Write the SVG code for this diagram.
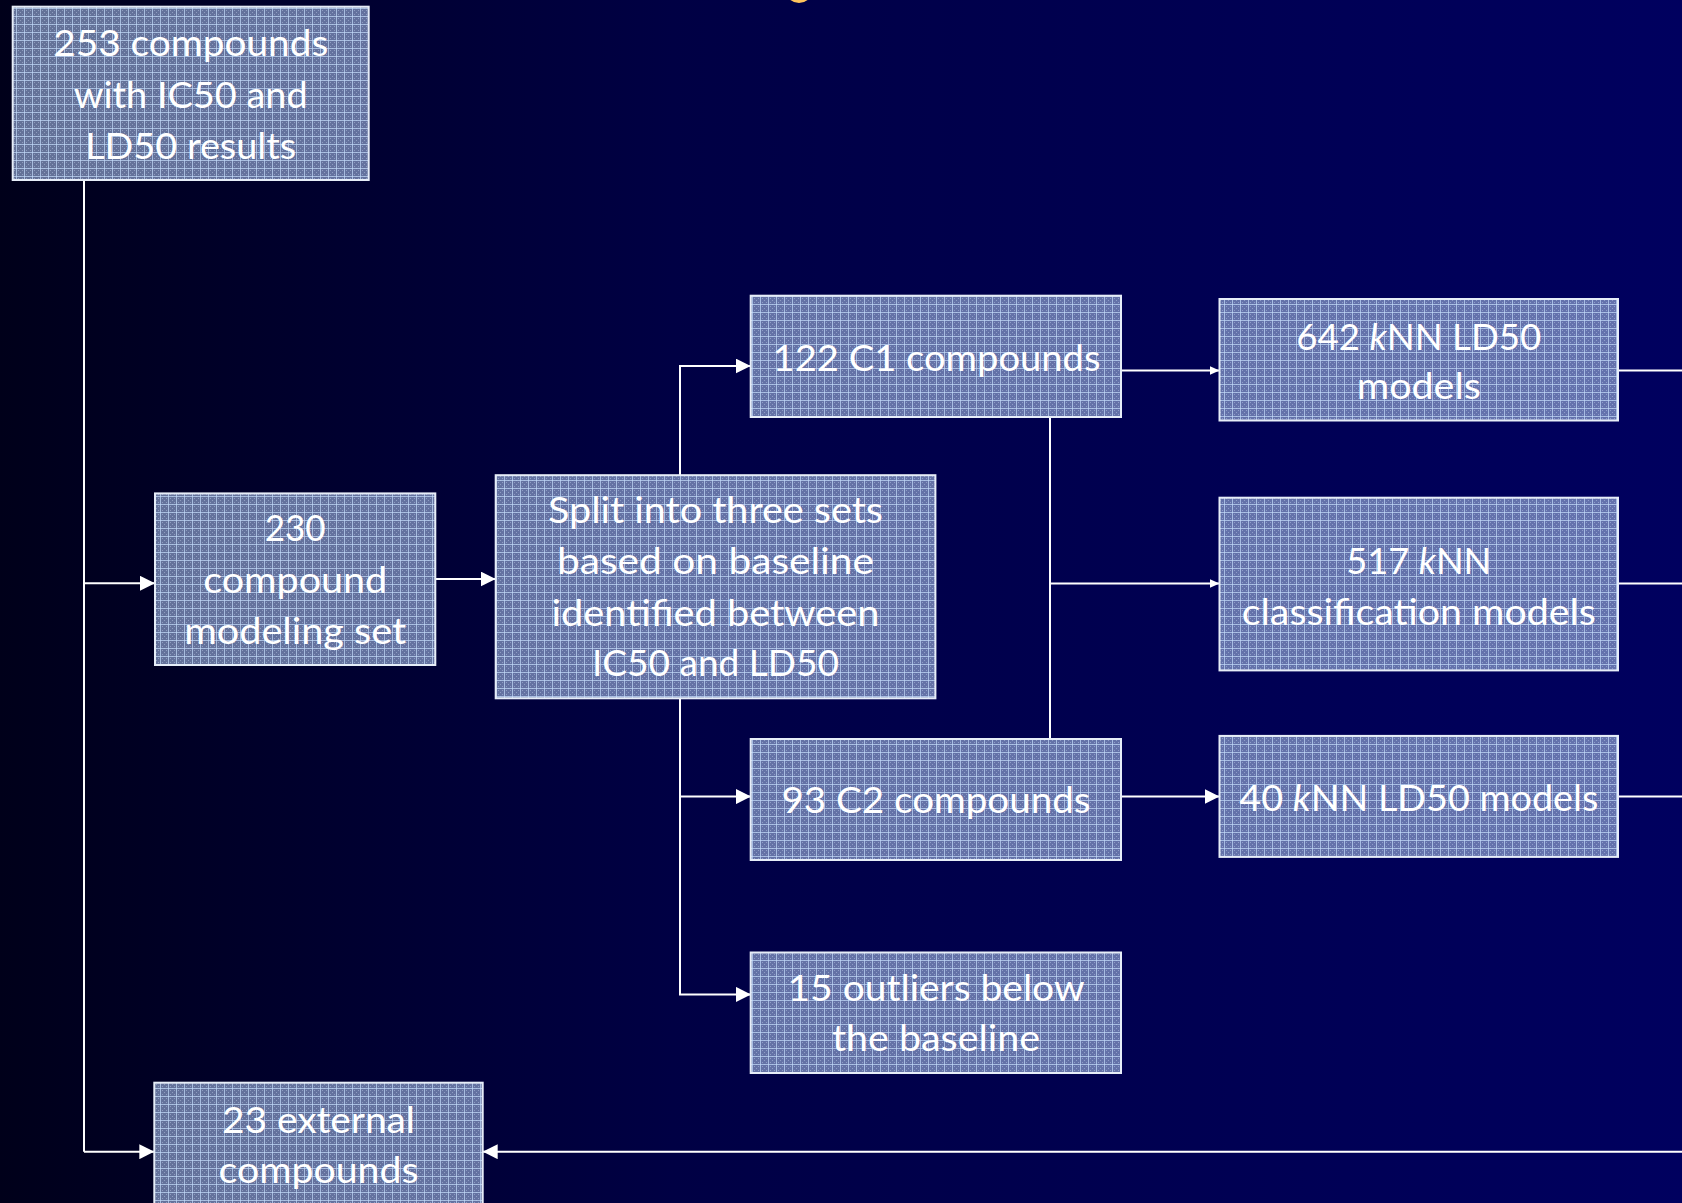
<svg xmlns="http://www.w3.org/2000/svg" width="1682" height="1203" viewBox="0 0 1682 1203">
  <defs>
    <linearGradient id="bg" x1="0" y1="0" x2="1" y2="0">
      <stop offset="0" stop-color="#00001a"/>
      <stop offset="0.4" stop-color="#000044"/>
      <stop offset="1" stop-color="#00005f"/>
    </linearGradient>
    <pattern id="grid" width="8" height="8" patternUnits="userSpaceOnUse">
      <rect width="8" height="8" fill="#93a8d2" fill-opacity="0.68"/>
      <rect x="2" y="2" width="1" height="1" fill="#d0e0f8" fill-opacity="0.4"/>
      <rect x="4" y="4" width="1" height="1" fill="#d0e0f8" fill-opacity="0.4"/>
      <rect x="6" y="2" width="1" height="1" fill="#d0e0f8" fill-opacity="0.4"/>
      <rect x="2" y="6" width="1" height="1" fill="#d0e0f8" fill-opacity="0.4"/>
      <rect x="6" y="6" width="1" height="1" fill="#d0e0f8" fill-opacity="0.4"/>
      <rect x="4" y="0" width="1" height="1" fill="#d0e0f8" fill-opacity="0.3"/>
      <rect x="0" y="0" width="8" height="1" fill="#c4dcfa" fill-opacity="0.7"/>
      <rect x="0" y="0" width="1" height="8" fill="#c4dcfa" fill-opacity="0.7"/>
    </pattern>
    <marker id="ah" viewBox="0 0 15 15" refX="15" refY="7.5" markerWidth="15" markerHeight="15" markerUnits="userSpaceOnUse" orient="auto">
      <path d="M0,0 L15,7.5 L0,15 z" fill="#ffffff"/>
    </marker>
    <marker id="ahs" viewBox="0 0 10 9" refX="10" refY="4.5" markerWidth="10" markerHeight="9" markerUnits="userSpaceOnUse" orient="auto">
      <path d="M0,0 L10,4.5 L0,9 z" fill="#ffffff"/>
    </marker>
  </defs>
  <style>
    .box { fill: url(#grid); stroke: #e6edf8; stroke-width: 2; }
    .t { font-family: Lato, "Open Sans", "Liberation Sans", sans-serif; font-size: 37px; fill: #ffffff; text-anchor: middle; }
    .c { fill: none; stroke: #ffffff; stroke-width: 2; }
  </style>

  <rect x="0" y="0" width="1682" height="1203" fill="url(#bg)"/>
  <ellipse cx="799" cy="-9" rx="13" ry="12" fill="#ffc45c"/>

  <g id="connectors">
    <path class="c" d="M84,180 V1151.7"/>
    <path class="c" d="M84,583.3 H155" marker-end="url(#ah)"/>
    <path class="c" d="M84,1151.7 H154.3" marker-end="url(#ah)"/>
    <path class="c" d="M435.3,579 H495.7" marker-end="url(#ah)"/>
    <path class="c" d="M680,475 V366 H750.7" marker-end="url(#ah)"/>
    <path class="c" d="M680,698 V994.4 H751" marker-end="url(#ah)"/>
    <path class="c" d="M680,796.6 H751" marker-end="url(#ah)"/>
    <path class="c" d="M1050,417 V739"/>
    <path class="c" d="M1050,583.5 H1219.5" marker-end="url(#ahs)"/>
    <path class="c" d="M1121,370.5 H1219.5" marker-end="url(#ahs)"/>
    <path class="c" d="M1121,796.6 H1219.5" marker-end="url(#ah)"/>
    <path class="c" d="M1618,370.5 H1682"/>
    <path class="c" d="M1618,583.5 H1682"/>
    <path class="c" d="M1618,796.6 H1682"/>
    <path class="c" d="M1682,1151.7 H482.7" marker-end="url(#ah)"/>
  </g>

  <g id="n253">
    <rect class="box" x="12.7" y="6.7" width="356" height="173.3"/>
    <text class="t" x="190.7" y="56" textLength="275" lengthAdjust="spacingAndGlyphs">253 compounds</text>
    <text class="t" x="190.7" y="107.5" textLength="234" lengthAdjust="spacingAndGlyphs">with IC50 and</text>
    <text class="t" x="190.7" y="158.5" textLength="211" lengthAdjust="spacingAndGlyphs">LD50 results</text>
  </g>

  <g id="n230">
    <rect class="box" x="155" y="493.4" width="280.3" height="171.6"/>
    <text class="t" x="295.2" y="541" textLength="61" lengthAdjust="spacingAndGlyphs">230</text>
    <text class="t" x="295.2" y="593" textLength="184" lengthAdjust="spacingAndGlyphs">compound</text>
    <text class="t" x="295.2" y="644" textLength="222" lengthAdjust="spacingAndGlyphs">modeling set</text>
  </g>

  <g id="nsplit">
    <rect class="box" x="495.7" y="475.2" width="439.7" height="223.1"/>
    <text class="t" x="715.5" y="523" textLength="335" lengthAdjust="spacingAndGlyphs">Split into three sets</text>
    <text class="t" x="715.5" y="574" textLength="317" lengthAdjust="spacingAndGlyphs">based on baseline</text>
    <text class="t" x="715.5" y="626" textLength="328" lengthAdjust="spacingAndGlyphs">identified between</text>
    <text class="t" x="715.5" y="676" textLength="247" lengthAdjust="spacingAndGlyphs">IC50 and LD50</text>
  </g>

  <g id="nc1">
    <rect class="box" x="750.7" y="295.7" width="370.3" height="121.3"/>
    <text class="t" x="936.5" y="371" textLength="328" lengthAdjust="spacingAndGlyphs">122 C1 compounds</text>
  </g>

  <g id="nc2">
    <rect class="box" x="750.7" y="739" width="370.3" height="121"/>
    <text class="t" x="936" y="813" textLength="309" lengthAdjust="spacingAndGlyphs">93 C2 compounds</text>
  </g>

  <g id="noutliers">
    <rect class="box" x="750.7" y="952.5" width="370.3" height="120.5"/>
    <text class="t" x="936" y="1001" textLength="297" lengthAdjust="spacingAndGlyphs">15 outliers below</text>
    <text class="t" x="936" y="1051" textLength="208" lengthAdjust="spacingAndGlyphs">the baseline</text>
  </g>

  <g id="n642">
    <rect class="box" x="1219.5" y="299" width="398.5" height="121.5"/>
    <text class="t" x="1418.8" y="349.5" textLength="245" lengthAdjust="spacingAndGlyphs">642 <tspan font-style="italic">k</tspan>NN LD50</text>
    <text class="t" x="1418.8" y="399" textLength="124" lengthAdjust="spacingAndGlyphs">models</text>
  </g>

  <g id="n517">
    <rect class="box" x="1219.5" y="497.7" width="398.5" height="172.7"/>
    <text class="t" x="1418.8" y="573.5" textLength="145" lengthAdjust="spacingAndGlyphs">517 <tspan font-style="italic">k</tspan>NN</text>
    <text class="t" x="1418.8" y="624.5" textLength="354" lengthAdjust="spacingAndGlyphs">classification models</text>
  </g>

  <g id="n40">
    <rect class="box" x="1219.5" y="735.9" width="398.5" height="121"/>
    <text class="t" x="1418.8" y="811" textLength="359" lengthAdjust="spacingAndGlyphs">40 <tspan font-style="italic">k</tspan>NN LD50 models</text>
  </g>

  <g id="n23">
    <rect class="box" x="154.3" y="1082.7" width="328.4" height="140"/>
    <text class="t" x="318.5" y="1132.5" textLength="193" lengthAdjust="spacingAndGlyphs">23 external</text>
    <text class="t" x="318.5" y="1182.5" textLength="200" lengthAdjust="spacingAndGlyphs">compounds</text>
  </g>
</svg>
